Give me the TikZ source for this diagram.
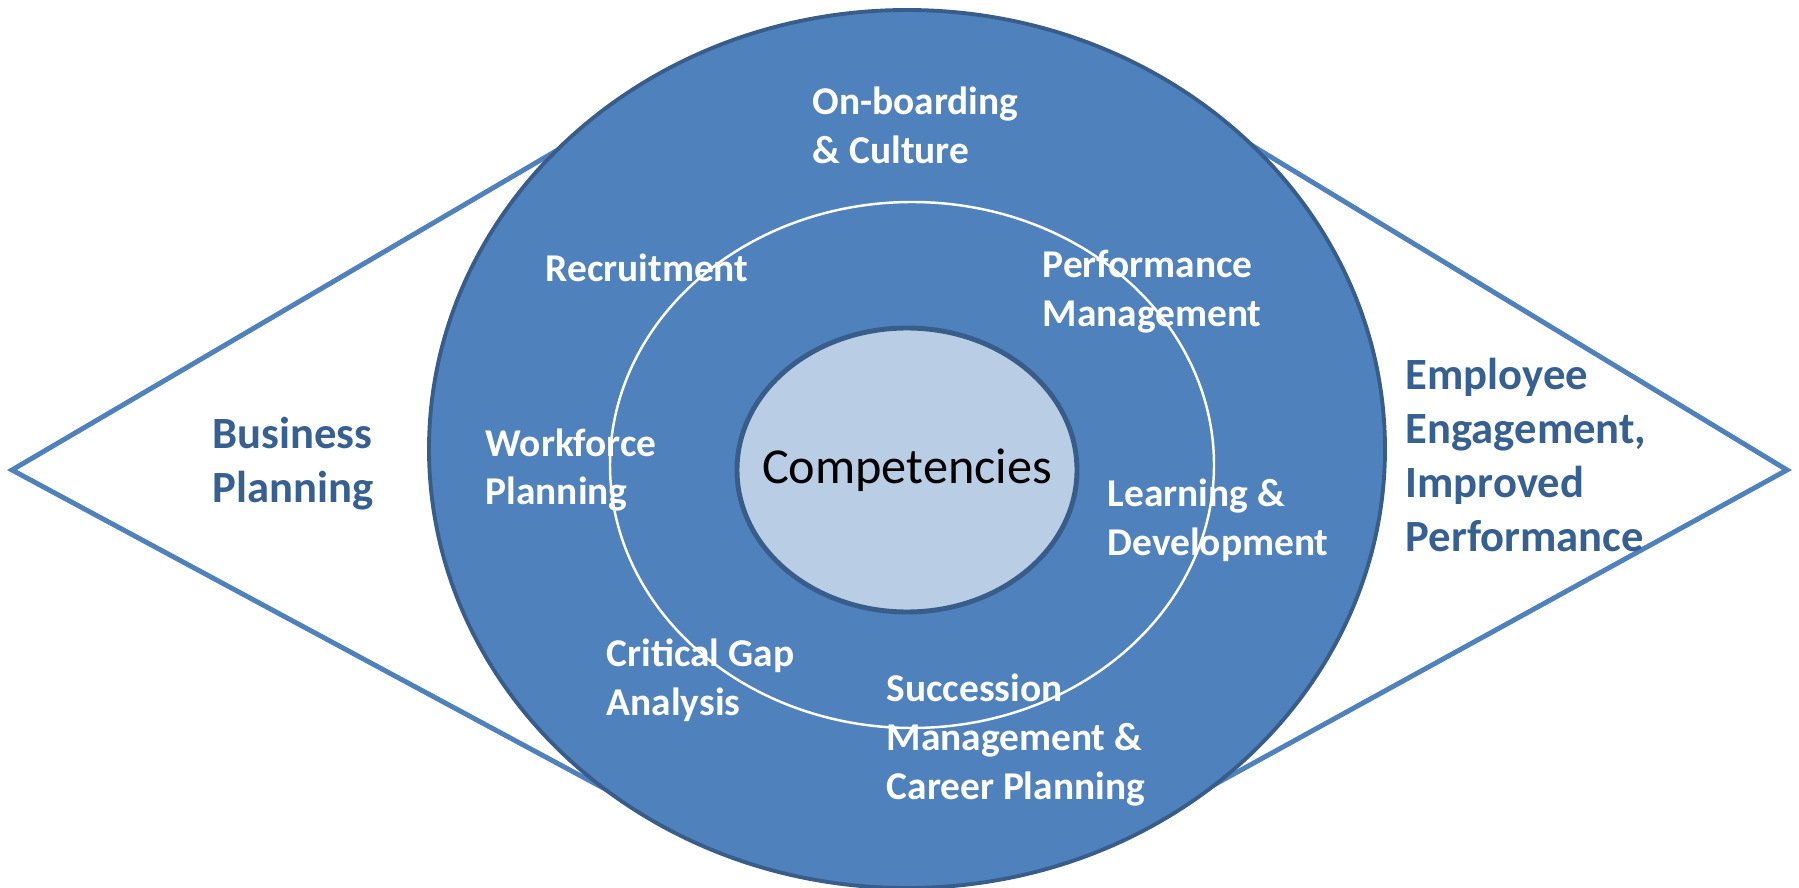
\documentclass[tikz,border=0pt]{standalone}
\usepackage{fontspec}
\setmainfont{Carlito}
\definecolor{accblue}{HTML}{4F81BD}
\definecolor{rimblue}{HTML}{385D8A}
\definecolor{coreblue}{HTML}{B9CDE5}
\definecolor{textblue}{HTML}{376092}
\begin{document}
\begin{tikzpicture}[x=0.01cm,y=-0.01cm,
  lbl/.style={anchor=west,inner sep=0pt,align=left,text=white,
    font=\bfseries\fontsize{11.2}{13.9}\selectfont},
  side/.style={anchor=west,inner sep=0pt,align=left,text=textblue,
    font=\bfseries\fontsize{12.7}{15.4}\selectfont}]
\useasboundingbox (0,0) rectangle (1799,888);
% diamond behind the rings
\coordinate (ltip) at (12,470);
\coordinate (rtip) at (1787,470);
\draw[accblue,line width=1.4pt,line join=miter] (660,90) -- (ltip) -- (700,840);
\draw[accblue,line width=1.4pt,line join=miter] (1200,114) -- (rtip) -- (1150,820);
% rings
\draw[rimblue,fill=accblue,line width=1.1pt] (907,449) ellipse [x radius=478, y radius=439];
\draw[white,line width=0.7pt] (912,465) ellipse [x radius=302, y radius=263];
\draw[rimblue,fill=coreblue,line width=1.4pt] (907,470) ellipse [x radius=170, y radius=142];
\node[inner sep=0pt,font=\fontsize{14.3}{17}\selectfont] (comp) at (907,470) {Competencies};
% labels
\node[lbl] (onb) at (812,125) {On-boarding\\\& Culture};
\node[lbl] (rec) at (545,268) {Recruitment};
\node[lbl] (perf) at (1042,292) {Performance\\Management};
\node[lbl] (wfp) at (485,470) {Workforce\\Planning};
\node[lbl] (ld) at (1107,520) {Learning \&\\Development};
\node[lbl] (cga) at (606,680) {Critical Gap\\Analysis};
\node[lbl] (scm) at (886,740) {Succession\\Management \&\\Career Planning};
\node[side] (bp) at (212,464) {Business\\Planning};
\node[side] (eng) at (1405,455) {Employee\\Engagement,\\Improved\\Performance};
\end{tikzpicture}
\end{document}
